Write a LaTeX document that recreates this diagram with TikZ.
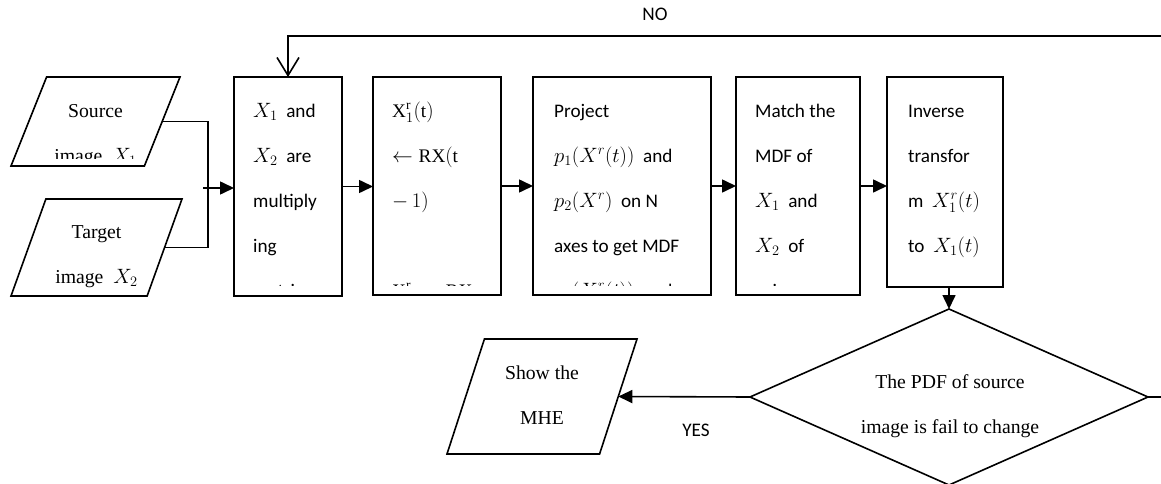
\documentclass[tikz,border=0pt]{standalone}
\usepackage{fontspec}
\setmainfont{Liberation Serif}
\newfontfamily\boxfont{Carlito}
\usetikzlibrary{shapes.geometric,arrows.meta,calc}
\begin{document}
\begin{tikzpicture}[x=1pt,y=-1pt,
  box/.style={draw,line width=1.6pt,rectangle,inner sep=0pt,outer sep=0pt},
  para/.style={draw,line width=1.6pt,trapezium,trapezium stretches=true,inner sep=1pt,outer sep=0pt},
  dec/.style={draw,line width=1.6pt,diamond,inner sep=1pt,outer sep=0pt,minimum width=398pt,minimum height=176pt},
  conn/.style={line width=1.6pt},
  arr/.style={conn,-{Triangle[length=14pt,width=13pt]}},
  openarr/.style={conn,-{Straight Barb[length=18pt,width=22pt]}},
  btxt/.style={anchor=north west,align=left,inner sep=0pt,font=\boxfont\fontsize{19.2}{45}\selectfont},
  stxt/.style={anchor=north,align=center,inner sep=0pt,font=\fontsize{19.7}{45}\selectfont},
  lbl/.style={font=\boxfont\fontsize{19.2}{23}\selectfont,inner sep=0pt}
]
\useasboundingbox (0,0) rectangle (1161,484);
\clip (0,0) rectangle (1161,484);

% input parallelograms
\node[para,trapezium left angle=70,trapezium right angle=110,minimum width=169pt,minimum height=89pt] (src) at (95.5,121.5) {};
\node[para,trapezium left angle=71,trapezium right angle=109,minimum width=171pt,minimum height=97pt] (tgt) at (96.5,247.5) {};
\node[para,trapezium left angle=72,trapezium right angle=108,minimum width=190pt,minimum height=115pt] (show) at (542,396.5) {};

% process boxes
\node[box,minimum width=108pt,minimum height=219pt] (b1) at (288,186.5) {};
\node[box,minimum width=128pt,minimum height=218pt] (b2) at (437,186) {};
\node[box,minimum width=178pt,minimum height=218pt] (b3) at (622,186) {};
\node[box,minimum width=124pt,minimum height=218pt] (b4) at (798,186) {};
\node[box,minimum width=116pt,minimum height=210pt] (b5) at (945,182) {};

% decision
\node[dec] (dia) at (949,397) {};

% texts
\begin{scope}
\clip (0,77) rectangle (200,158);
\node[stxt] (tsrc) at (95.5,85.5) {\strut Source\\image~ $X_1$};
\end{scope}
\node[stxt] (ttgt) at (96.5,206.5) {\strut Target\\image~ $X_2$};
\node[stxt] (tshow) at (542,347.5) {\strut Show the\\MHE};
\node[stxt] (tdia) at (950,356.5) {\strut The PDF of source\\image is fail to change};

\begin{scope}
\clip (234,77) rectangle (342,285.5);
\node[btxt] (t1) at (253,85.5) {\strut$X_1$~ and\\$X_2$~ are\\multiply\\ing\\matrix};
\end{scope}
\begin{scope}
\clip (373,77) rectangle (501,285.5);
\node[btxt] (t2) at (392,85.5) {\strut$\mathrm{X}^{\mathrm{r}}_{1}(\mathrm{t})$\\$\leftarrow\mathrm{RX}(\mathrm{t}$\\$-\,1)$\\ \\$\mathrm{X}^{\mathrm{r}}_{2}\leftarrow\mathrm{RX}$};
\end{scope}
\begin{scope}
\clip (533,77) rectangle (711,285.5);
\node[btxt] (t3) at (554,85.5) {\strut Project\\$p_1\bigl(X^r(t)\bigr)$~ and\\$p_2(X^r)$~ on N\\axes to get MDF\\$p_1(X^r_1(t))$~ and};
\end{scope}
\begin{scope}
\clip (736,77) rectangle (860,285.5);
\node[btxt] (t4) at (755,85.5) {\strut Match the\\MDF of\\$X_1$~ and\\$X_2$~ of\\axis};
\end{scope}
\begin{scope}
\clip (887,77) rectangle (1003,279);
\node[btxt] (t5) at (908,85.5) {\strut Inverse\\transfor\\m~ $X_1^r(t)$\\to~ $X_1(t)$};
\end{scope}

% labels
\node[lbl] (no) at (655,14) {NO};
\node[lbl] (yes) at (696,430) {YES};

% connectors
\coordinate (j) at (208,188);
\draw[conn] (src.east) -| (j);
\draw[conn] (tgt.east) -| (j);
\draw[arr] ($(j)+(-5,0)$) -- (j -| b1.west);
\draw[arr] (b1.east) -- (b1.east -| b2.west);
\draw[arr] (b2.east) -- (b2.east -| b3.west);
\draw[arr] (b3.east) -- (b3.east -| b4.west);
\draw[arr] (b4.east) -- (b4.east -| b5.west);
\draw[arr] (dia.north |- b5.south) -- (dia.north);
\draw[arr] (dia.west) -- (show.east);
\coordinate (rt) at (1163,36);
\draw[openarr] (dia.east) -| (rt) -- (b1.north |- rt) -- (b1.north);
\end{tikzpicture}
\end{document}
